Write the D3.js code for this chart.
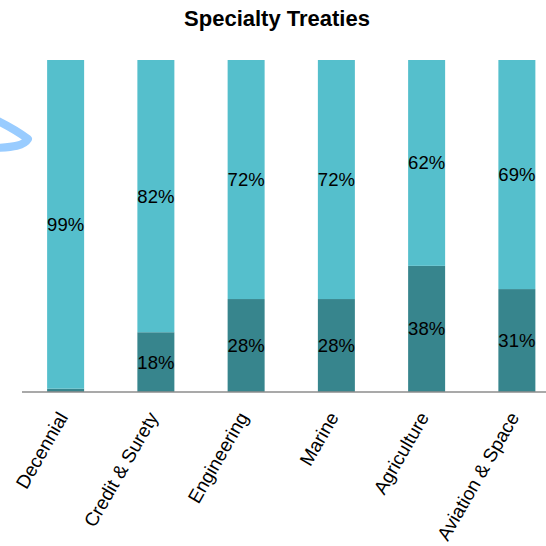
<!DOCTYPE html>
<html>
<head>
<meta charset="utf-8">
<script src="https://cdn.jsdelivr.net/npm/d3@7/dist/d3.min.js"></script>
<style>
  html, body { margin: 0; padding: 0; background: #fff; }
  svg { display: block; font-family: "Liberation Sans", Arial, sans-serif; }
</style>
</head>
<body>
<svg id="chart" width="546" height="546"></svg>
<script>
// Share of each specialty treaty line, split into two stacked parts (percent)
const categories = ["Decennial", "Credit & Surety", "Engineering", "Marine", "Agriculture", "Aviation & Space"];
const lowerShare = [1, 18, 28, 28, 38, 31];
const upperShare = [99, 82, 72, 72, 62, 69];
const lowerLabels = [null, "18%", "28%", "28%", "38%", "31%"];
const upperLabels = ["99%", "82%", "72%", "72%", "62%", "69%"];
const chartTitle = "Specialty Treaties";

const rows = categories.map((c, i) => ({ category: c, lower: lowerShare[i], upper: upperShare[i] }));
const keys = ["lower", "upper"];
const colors = { lower: "#37858d", upper: "#55bfcc" };
const labelsByKey = { lower: lowerLabels, upper: upperLabels };

const svg = d3.select("#chart");
const x = d3.scaleBand().domain(categories).range([20.5, 562]).paddingInner(0.59).paddingOuter(0.295);
const y = d3.scaleLinear().domain([0, 100]).range([392, 60]);

const stacked = d3.stack().keys(keys)(rows);

const groups = svg.append("g").selectAll("g")
  .data(stacked).join("g")
  .attr("fill", d => colors[d.key]);

groups.selectAll("rect")
  .data(d => d.map(v => ({ v, key: d.key })))
  .join("rect")
  .attr("x", d => x(d.v.data.category))
  .attr("width", x.bandwidth())
  .attr("y", d => y(d.v[1]))
  .attr("height", d => y(d.v[0]) - y(d.v[1]));

// Percentage labels centred in each segment
stacked.forEach(layer => {
  svg.append("g").selectAll("text")
    .data(layer.filter((v, i) => labelsByKey[layer.key][i]))
    .join("text")
    .attr("x", d => x(d.data.category) + x.bandwidth() / 2)
    .attr("y", d => (y(d[0]) + y(d[1])) / 2)
    .attr("text-anchor", "middle")
    .attr("dominant-baseline", "central")
    .attr("font-size", 18.5)
    .attr("fill", "#000")
    .text(d => labelsByKey[layer.key][categories.indexOf(d.data.category)]);
});

// Category axis
const axis = svg.append("g")
  .attr("transform", `translate(0,${y(0)})`)
  .call(d3.axisBottom(x).tickSize(0).tickPadding(0));
axis.select(".domain").attr("stroke", "#8c8c8c").attr("stroke-width", 1.5).attr("d", "M22,0H546");
axis.selectAll(".tick text")
  .attr("font-size", 19)
  .attr("font-family", "Liberation Sans, Arial, sans-serif")
  .attr("fill", "#000")
  .attr("text-anchor", "end")
  .attr("dy", 0)
  .attr("transform", "translate(3,25) rotate(-60)");

// Title
svg.append("text")
  .attr("x", 277)
  .attr("y", 26)
  .attr("text-anchor", "middle")
  .attr("font-size", 22)
  .attr("font-weight", "bold")
  .text(chartTitle);

// Hand-drawn pen stroke at the left margin
svg.append("path")
  .attr("d", "M-2,121 C10,127 20,133 28,139 C24,146 12,147 -2,148")
  .attr("fill", "none")
  .attr("stroke", "#99ccff")
  .attr("stroke-width", 8)
  .attr("stroke-linecap", "round")
  .attr("stroke-linejoin", "round");
</script>
</body>
</html>
